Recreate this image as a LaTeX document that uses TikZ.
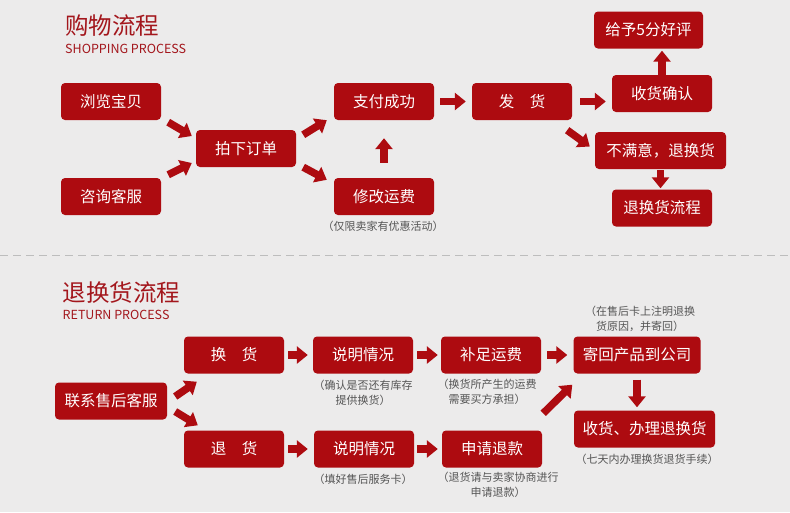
\documentclass[tikz,border=0pt]{standalone}
\usepackage{fontspec}
\setmainfont{Noto Sans CJK SC}
\usetikzlibrary{arrows.meta}

\definecolor{boxred}{HTML}{AD0B10}
\definecolor{titlered}{HTML}{A3161C}
\definecolor{notegray}{HTML}{555555}
\definecolor{bggray}{HTML}{ECEBEB}
\definecolor{dashgray}{HTML}{BDBDBD}

\begin{document}
\begin{tikzpicture}[x=1pt,y=-1pt]

\tikzstyle{box}=[rectangle,rounded corners=4pt,fill=boxred,text=white,minimum width=100pt,minimum height=37pt,inner sep=0pt,font=\fontsize{15.5}{18}\selectfont]
\tikzstyle{note}=[text=notegray,align=center,inner sep=0pt,font=\fontsize{11}{14.5}\selectfont]
\tikzstyle{title}=[text=titlered,anchor=west,inner sep=0pt,font=\fontsize{23.5}{26}\selectfont]
\tikzstyle{subtitle}=[text=titlered,anchor=west,inner sep=0pt,font=\fontsize{12.5}{14}\selectfont]
\tikzstyle{flow}=[draw=boxred,line width=7.5pt,-{Triangle[length=11pt,width=17pt]}]

\fill[bggray] (0,0) rectangle (790,512);
\useasboundingbox (0,0) rectangle (790,512);

%shopping process
\node[title] (shoptitle) at (65,25.5) {购物流程};
\node[subtitle] (shopsub) at (65,49) {SHOPPING PROCESS};

\node[box] (browse) at (111,101.5) {浏览宝贝};
\node[box] (consult) at (111,196.5) {咨询客服};
\node[box] (order) at (246,148.5) {拍下订单};
\node[box] (pay) at (384,101.5) {支付成功};
\node[box] (modify) at (384,196.5) {修改运费};
\node[note] (modifynote) at (383,226) {（仅限卖家有优惠活动）};
\node[box] (send) at (522,101.5) {发\hspace{1em}货};
\node[box] (confirm) at (662,93.5) {收货确认};
\node[box, minimum width=109pt] (review) at (648.5,30) {给予5分好评};
\node[box, minimum width=131pt] (unhappy) at (660.5,150.5) {不满意，退换货};
\node[box] (retflow) at (662,208) {退换货流程};

\draw[flow] ([shift={(7,2)}]browse.south east) -- ([shift={(-4,-12.5)}]order.west);
\draw[flow] ([shift={(7,-3)}]consult.north east) -- ([shift={(-4,14.5)}]order.west);
\draw[flow] ([shift={(7,5)}]order.north east) -- ([shift={(-7,0)}]pay.south west);
\draw[flow] ([shift={(7,0)}]order.south east) -- ([shift={(-7,2)}]modify.north west);
\draw[flow, shorten <=15pt, shorten >=18pt] (modify) -- (pay);
\draw[flow, shorten <=6pt, shorten >=6pt] (pay) -- (send);
\draw[flow, shorten <=8pt, shorten >=6pt] (send.east) -- (send.east -| confirm.west);
\draw[flow, shorten >=2pt] (confirm.north) -- (confirm.north |- review.south);
\draw[flow] ([shift={(-5,10)}]send.south east) -- ([shift={(-5,-4)}]unhappy.west);
\draw[flow, shorten <=1pt, shorten >=1pt] (unhappy.south) -- (unhappy.south |- retflow.north);

% divider
\draw[dashgray, line width=1pt, dash pattern=on 8pt off 5pt] (0,255) -- (790,255);

%return process
\node[title] (rettitle) at (62.5,292.5) {退换货流程};
\node[subtitle] (retsub) at (62.5,315) {RETURN PROCESS};

\node[box, minimum width=112pt] (contact) at (111,401) {联系售后客服};
\node[box] (exch) at (234,355) {换\hspace{1em}货};
\node[box] (ret) at (234,449) {退\hspace{1em}货};
\node[box] (info1) at (363,355) {说明情况};
\node[note] (info1note) at (363,393) {（确认是否还有库存\\提供换货）};
\node[box] (info2) at (364,449) {说明情况};
\node[note] (info2note) at (363,479) {（填好售后服务卡）};
\node[box] (freight) at (491,355) {补足运费};
\node[note] (freightnote) at (487,392) {（换货所产生的运费\\需要买方承担）};
\node[box] (refund) at (492,449) {申请退款};
\node[note] (refundnote) at (498,485) {（退货请与卖家协商进行\\申请退款）};
\node[box, minimum width=127pt] (shipback) at (637,355) {寄回产品到公司};
\node[note] (shipbacknote) at (640,319) {（在售后卡上注明退换\\货原因，并寄回）};
\node[box, minimum width=141pt] (receive) at (644.5,429) {收货、办理退换货};
\node[note] (receivenote) at (647,459.5) {（七天内办理换货退货手续）};

\draw[flow] ([shift={(8,-4.5)}]contact.east) -- ([shift={(13,8)}]exch.south west);
\draw[flow] ([shift={(8,10.5)}]contact.east) -- ([shift={(14,-5)}]ret.north west);
\draw[flow, shorten <=4pt, shorten >=5pt] (exch) -- (info1);
\draw[flow, shorten <=4pt, shorten >=6pt] (ret) -- (info2);
\draw[flow, shorten <=4pt, shorten >=3pt] (info1) -- (freight);
\draw[flow, shorten <=3pt, shorten >=4pt] (info2) -- (refund);
\draw[flow, shorten <=6pt, shorten >=6pt] (freight) -- (shipback);
\draw[flow] ([shift={(1,-17)}]refund.north east) -- ([shift={(-1,11)}]shipback.south west);
\draw[flow, shorten <=6pt, shorten >=3pt] (shipback.south) -- (shipback.south |- receive.north);

\end{tikzpicture}
\end{document}
